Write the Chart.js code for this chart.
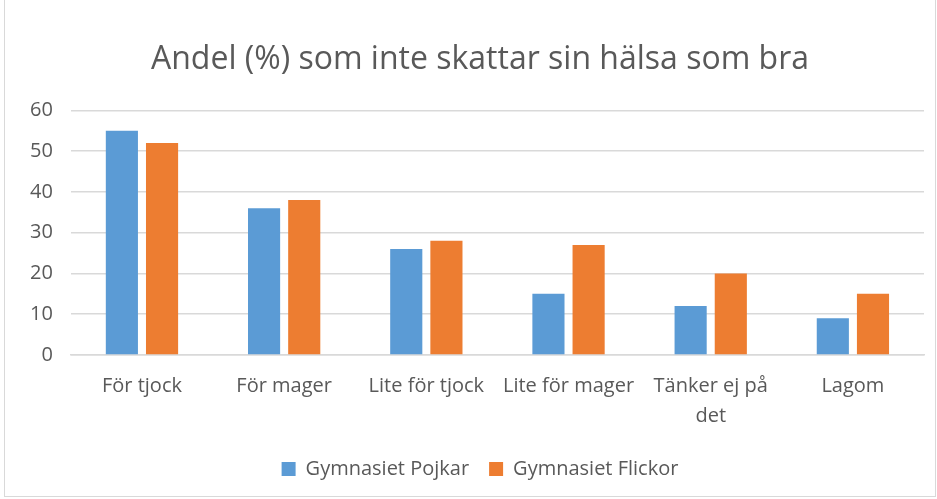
<!DOCTYPE html>
<html>
<head>
<meta charset="utf-8">
<script src="https://cdn.jsdelivr.net/npm/chart.js@4.4.1/dist/chart.umd.min.js"></script>
<style>
  html, body { margin: 0; padding: 0; background: #fff; }
  #wrap { position: absolute; left: 4px; top: 0; width: 932px; height: 497px; border: 1px solid #d9d9d9; border-top: none; box-sizing: border-box; }
  canvas { display: block; }
</style>
</head>
<body>
<div id="wrap"><canvas id="chartCanvas"></canvas></div>
<script>
// --- data ---
const categories = ["För tjock", "För mager", "Lite för tjock", "Lite för mager", ["Tänker ej på", "det"], "Lagom"];
const pojkar = [55, 36, 26, 15, 12, 9];
const flickor = [52, 38, 28, 27, 20, 15];
const yTicks = [0, 10, 20, 30, 40, 50, 60];

const FONT = "'Open Sans', 'Liberation Sans', sans-serif";
const GREY = "#595959";

const canvas = document.getElementById("chartCanvas");

// Excel centres title and legend a little right of the canvas centre
const shiftBlocks = {
  id: "shiftBlocks",
  afterLayout(chart) {
    [chart.titleBlock, chart.legend].forEach(b => {
      if (!b) return;
      b.left += 12;
      b.right += 12;
    });
  }
};

new Chart(canvas, {
  type: "bar",
  data: {
    labels: categories,
    datasets: [
      { label: "Gymnasiet Pojkar", data: pojkar, backgroundColor: "#5b9bd5" },
      { label: "Gymnasiet Flickor", data: flickor, backgroundColor: "#ed7d31" }
    ]
  },
  options: {
    responsive: true,
    maintainAspectRatio: false,
    animation: false,
    datasets: { bar: { categoryPercentage: 0.565, barPercentage: 0.8 } },
    layout: { padding: { left: 7, right: 11, top: 41, bottom: 7 } },
    plugins: {
      title: {
        display: true,
        text: "Andel (%) som inte skattar sin hälsa som bra",
        color: GREY,
        font: { family: FONT, size: 32, weight: "normal" },
        padding: { top: 0, bottom: 31 }
      },
      legend: {
        position: "bottom",
        labels: {
          color: GREY,
          font: { family: FONT, size: 20 },
          boxWidth: 14, boxHeight: 14,
          padding: 20
        }
      },
      tooltip: { enabled: false }
    },
    scales: {
      y: {
        min: 0, max: 60,
        afterBuildTicks: axis => { axis.ticks = yTicks.map(v => ({ value: v })); },
        grid: { color: "#d9d9d9", lineWidth: 1.5, drawTicks: false },
        border: { display: false },
        ticks: { color: GREY, font: { family: FONT, size: 20 }, padding: 18 }
      },
      x: {
        grid: { display: false },
        border: { color: "#d9d9d9", width: 1.5 },
        ticks: { color: GREY, font: { family: FONT, size: 20, lineHeight: 1.5 }, padding: 8, maxRotation: 0, autoSkip: false }
      }
    }
  },
  plugins: [shiftBlocks]
});
</script>
</body>
</html>
